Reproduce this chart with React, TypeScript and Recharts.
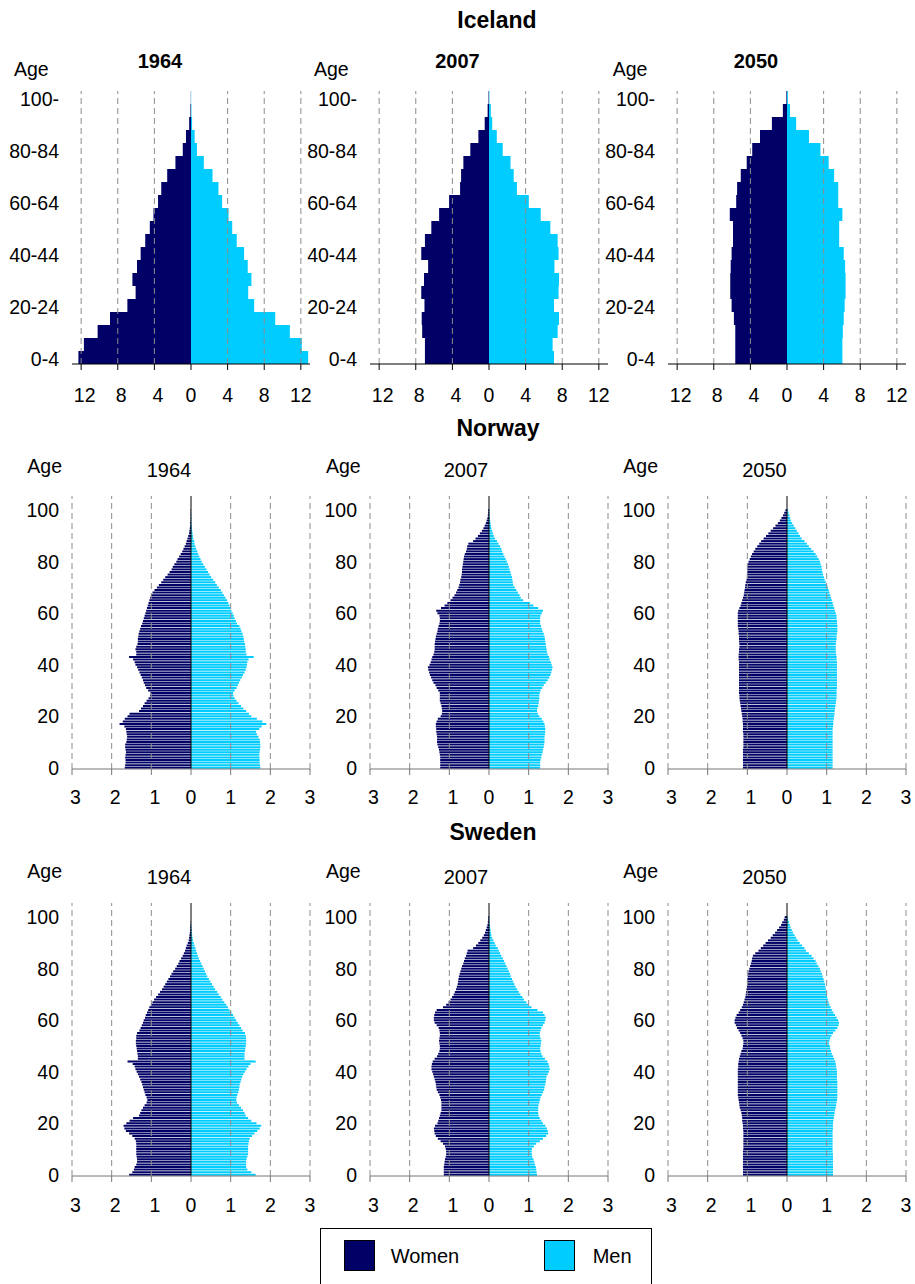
import React from 'react';
import { BarChart, Bar, XAxis, YAxis, ReferenceLine } from 'recharts';

const FONT = "'Liberation Sans', Arial, Helvetica, sans-serif";
const WOMEN_COLOR = '#000066';
const MEN_COLOR = '#00CCFF';
const FS = 19.5;

// ---------- categories / ticks ----------
const ICE_GROUPS = ['0-4','5-9','10-14','15-19','20-24','25-29','30-34','35-39','40-44','45-49','50-54','55-59','60-64','65-69','70-74','75-79','80-84','85-89','90-94','95-99','100-'];
const SINGLE_AGES = Array.from({ length: 106 }, (_, i) => String(i));
const ICE_TICKS = [-12, -8, -4, 0, 4, 8, 12];
const NORDIC_TICKS = [-3, -2, -1, 0, 1, 2, 3];
const YEARS = ['1964', '2007', '2050'];
const COUNTRIES = ['Iceland', 'Norway', 'Sweden'];

// ---------- Iceland (percent, 5-year groups, 0-4 first) ----------
const IS64_W = [12.3,11.7,10.2,8.85,6.95,6.05,6.4,5.9,5.5,5.0,4.5,4.1,3.6,3.25,2.6,1.7,0.9,0.55,0.2,0.06,0.02];
const IS64_M = [12.8,12.1,10.8,9.2,6.9,6.25,6.6,6.2,5.8,5.0,4.5,4.1,3.4,3.0,2.35,1.4,0.65,0.4,0.12,0.05,0.02];
const IS07_W = [7.0,7.0,7.3,7.35,7.05,7.4,7.1,6.65,7.4,7.0,6.3,5.45,4.36,3.16,3.05,2.8,2.04,1.16,0.47,0.15,0.05];
const IS07_M = [7.1,6.95,7.5,7.65,7.1,7.6,7.65,7.15,7.6,7.5,6.7,5.65,4.35,3.05,2.7,2.35,1.5,0.85,0.35,0.2,0.05];
const IS50_W = [5.65,5.65,5.65,5.8,6.05,6.2,6.2,6.15,6.05,5.9,5.9,6.25,5.55,5.45,5.05,4.4,3.8,2.95,1.65,0.45,0.07];
const IS50_M = [6.05,6.05,6.1,6.2,6.3,6.4,6.4,6.35,6.2,5.7,5.7,6.05,5.6,5.6,5.15,4.55,3.65,2.4,1.0,0.33,0.1];

// ---------- Norway (percent, single years 0..100) ----------
const NO64_W = [
  1.67,1.66,1.65,1.65,1.66,1.65,1.64,1.65,1.66,1.66,
  1.63,1.62,1.61,1.62,1.63,1.64,1.68,1.80,1.72,1.67,
  1.60,1.55,1.31,1.26,1.21,1.17,1.12,1.07,1.03,1.02,
  1.08,1.13,1.16,1.19,1.21,1.24,1.27,1.30,1.33,1.36,
  1.40,1.42,1.46,1.56,1.38,1.38,1.40,1.38,1.35,1.34,
  1.34,1.33,1.32,1.30,1.28,1.26,1.23,1.21,1.19,1.17,
  1.15,1.13,1.11,1.09,1.07,1.05,1.03,1.01,0.97,0.92,
  0.86,0.81,0.75,0.70,0.65,0.59,0.54,0.49,0.46,0.42,
  0.37,0.34,0.30,0.26,0.22,0.19,0.16,0.13,0.11,0.09,
  0.07,0.05,0.04,0.03,0.02,0.02,0.01,0.01,0.01,0.01,
  0.01];
const NO64_M = [
  1.75,1.74,1.73,1.73,1.73,1.72,1.73,1.74,1.75,1.75,
  1.74,1.73,1.70,1.66,1.64,1.72,1.78,1.90,1.80,1.66,
  1.52,1.46,1.39,1.32,1.26,1.20,1.15,1.10,1.07,1.06,
  1.10,1.15,1.18,1.21,1.24,1.28,1.31,1.35,1.38,1.40,
  1.41,1.42,1.45,1.58,1.40,1.38,1.38,1.37,1.36,1.34,
  1.33,1.32,1.30,1.27,1.25,1.22,1.16,1.13,1.10,1.08,
  1.05,1.02,1.00,0.97,0.94,0.91,0.87,0.83,0.79,0.75,
  0.70,0.65,0.61,0.56,0.51,0.47,0.43,0.39,0.35,0.31,
  0.27,0.24,0.21,0.18,0.16,0.13,0.11,0.09,0.08,0.06,
  0.05,0.04,0.03,0.02,0.02,0.01,0.01,0.01,0.01,0.00,
  0.00];
const NO07_W = [
  1.23,1.23,1.23,1.23,1.23,1.24,1.25,1.26,1.28,1.30,
  1.31,1.31,1.31,1.32,1.33,1.33,1.34,1.34,1.32,1.29,
  1.22,1.19,1.18,1.19,1.20,1.22,1.24,1.24,1.24,1.24,
  1.28,1.32,1.35,1.40,1.43,1.46,1.49,1.51,1.53,1.54,
  1.50,1.47,1.45,1.43,1.40,1.38,1.37,1.37,1.37,1.36,
  1.35,1.34,1.32,1.30,1.29,1.27,1.25,1.24,1.24,1.25,
  1.30,1.33,1.21,1.12,1.05,0.97,0.92,0.87,0.83,0.80,
  0.77,0.75,0.73,0.72,0.70,0.69,0.68,0.68,0.67,0.66,
  0.65,0.64,0.63,0.61,0.58,0.56,0.55,0.52,0.40,0.34,
  0.28,0.23,0.18,0.14,0.11,0.08,0.06,0.04,0.03,0.02,
  0.02];
const NO07_M = [
  1.29,1.29,1.29,1.30,1.32,1.33,1.35,1.36,1.38,1.39,
  1.40,1.40,1.40,1.41,1.42,1.42,1.41,1.40,1.37,1.33,
  1.27,1.23,1.21,1.22,1.24,1.25,1.26,1.27,1.27,1.28,
  1.30,1.34,1.38,1.43,1.48,1.52,1.55,1.57,1.59,1.60,
  1.58,1.56,1.53,1.51,1.48,1.46,1.45,1.44,1.43,1.42,
  1.41,1.40,1.38,1.35,1.33,1.31,1.29,1.29,1.29,1.30,
  1.33,1.36,1.24,1.12,1.03,0.86,0.80,0.77,0.73,0.69,
  0.65,0.61,0.60,0.59,0.58,0.56,0.54,0.52,0.50,0.48,
  0.45,0.42,0.39,0.36,0.33,0.31,0.28,0.24,0.20,0.15,
  0.12,0.10,0.08,0.06,0.05,0.04,0.03,0.02,0.01,0.01,
  0.01];
const NO50_W = [
  1.11,1.11,1.11,1.11,1.11,1.11,1.11,1.11,1.10,1.10,
  1.10,1.10,1.10,1.10,1.11,1.11,1.11,1.11,1.12,1.12,
  1.13,1.14,1.15,1.16,1.17,1.18,1.19,1.20,1.20,1.21,
  1.21,1.21,1.21,1.21,1.21,1.21,1.21,1.21,1.21,1.21,
  1.21,1.21,1.22,1.22,1.22,1.21,1.21,1.20,1.20,1.21,
  1.21,1.21,1.22,1.22,1.23,1.24,1.24,1.24,1.24,1.24,
  1.24,1.23,1.20,1.17,1.15,1.13,1.11,1.09,1.08,1.07,
  1.06,1.05,1.04,1.02,1.01,1.01,1.00,1.00,1.00,0.99,
  0.97,0.94,0.91,0.88,0.84,0.80,0.75,0.70,0.65,0.59,
  0.53,0.47,0.41,0.35,0.29,0.23,0.18,0.14,0.10,0.07,
  0.04];
const NO50_M = [
  1.15,1.15,1.15,1.15,1.15,1.15,1.15,1.15,1.15,1.15,
  1.15,1.15,1.15,1.15,1.15,1.15,1.16,1.17,1.17,1.18,
  1.19,1.20,1.20,1.21,1.22,1.23,1.24,1.25,1.25,1.25,
  1.25,1.26,1.26,1.26,1.26,1.26,1.26,1.26,1.26,1.26,
  1.26,1.26,1.25,1.25,1.24,1.23,1.23,1.23,1.23,1.24,
  1.25,1.25,1.26,1.27,1.27,1.27,1.26,1.26,1.25,1.25,
  1.23,1.21,1.19,1.17,1.15,1.13,1.11,1.09,1.07,1.05,
  1.03,1.00,0.98,0.95,0.93,0.91,0.89,0.88,0.87,0.85,
  0.83,0.80,0.76,0.72,0.67,0.61,0.55,0.50,0.44,0.37,
  0.33,0.29,0.25,0.21,0.17,0.13,0.10,0.08,0.06,0.04,
  0.03];

// ---------- Sweden (percent, single years 0..100) ----------
const SE64_W = [
  1.56,1.48,1.44,1.42,1.38,1.36,1.36,1.37,1.38,1.38,
  1.38,1.38,1.38,1.39,1.42,1.48,1.56,1.64,1.68,1.70,
  1.63,1.55,1.46,1.31,1.28,1.25,1.21,1.17,1.12,1.10,
  1.12,1.15,1.17,1.19,1.21,1.23,1.25,1.28,1.31,1.34,
  1.37,1.40,1.42,1.47,1.60,1.34,1.34,1.35,1.36,1.37,
  1.38,1.39,1.39,1.38,1.38,1.36,1.30,1.27,1.24,1.21,
  1.19,1.16,1.14,1.11,1.08,1.05,1.01,0.97,0.93,0.88,
  0.83,0.78,0.73,0.69,0.65,0.61,0.57,0.53,0.49,0.45,
  0.40,0.36,0.32,0.29,0.25,0.21,0.18,0.15,0.13,0.11,
  0.08,0.06,0.05,0.04,0.03,0.02,0.02,0.01,0.01,0.00,
  0.00];
const SE64_M = [
  1.63,1.52,1.42,1.39,1.39,1.39,1.40,1.42,1.44,1.44,
  1.44,1.44,1.45,1.46,1.48,1.54,1.60,1.67,1.73,1.77,
  1.65,1.52,1.44,1.38,1.35,1.31,1.26,1.21,1.16,1.14,
  1.15,1.17,1.19,1.21,1.22,1.23,1.25,1.27,1.29,1.32,
  1.36,1.40,1.45,1.50,1.63,1.35,1.35,1.35,1.36,1.37,
  1.38,1.39,1.39,1.39,1.38,1.36,1.30,1.26,1.22,1.18,
  1.14,1.10,1.06,1.02,0.97,0.93,0.89,0.84,0.79,0.75,
  0.70,0.66,0.61,0.57,0.53,0.49,0.45,0.41,0.38,0.35,
  0.32,0.29,0.26,0.23,0.20,0.17,0.15,0.13,0.11,0.09,
  0.07,0.05,0.04,0.03,0.02,0.02,0.01,0.01,0.00,0.00,
  0.00];
const SE07_W = [
  1.14,1.14,1.14,1.14,1.13,1.12,1.11,1.09,1.08,1.08,
  1.09,1.11,1.16,1.22,1.29,1.34,1.37,1.38,1.39,1.36,
  1.30,1.28,1.26,1.24,1.22,1.20,1.20,1.20,1.20,1.21,
  1.23,1.25,1.29,1.32,1.33,1.34,1.35,1.37,1.39,1.41,
  1.43,1.45,1.45,1.44,1.42,1.37,1.31,1.28,1.25,1.24,
  1.24,1.25,1.26,1.25,1.24,1.24,1.25,1.27,1.32,1.37,
  1.39,1.39,1.38,1.36,1.32,1.16,1.08,1.02,0.97,0.93,
  0.89,0.86,0.83,0.81,0.79,0.78,0.77,0.76,0.74,0.72,
  0.70,0.68,0.65,0.63,0.61,0.58,0.56,0.54,0.40,0.33,
  0.27,0.22,0.17,0.13,0.10,0.08,0.06,0.04,0.03,0.02,
  0.02];
const SE07_M = [
  1.21,1.20,1.19,1.18,1.16,1.14,1.12,1.09,1.08,1.08,
  1.08,1.13,1.19,1.28,1.36,1.44,1.49,1.48,1.46,1.42,
  1.36,1.32,1.28,1.25,1.24,1.24,1.24,1.25,1.27,1.28,
  1.30,1.33,1.36,1.39,1.40,1.42,1.43,1.44,1.45,1.48,
  1.51,1.53,1.52,1.50,1.47,1.41,1.35,1.32,1.30,1.29,
  1.30,1.31,1.32,1.30,1.28,1.28,1.30,1.32,1.36,1.40,
  1.42,1.43,1.40,1.36,1.22,1.07,1.00,0.94,0.88,0.84,
  0.79,0.75,0.71,0.67,0.64,0.61,0.58,0.55,0.53,0.50,
  0.47,0.44,0.41,0.38,0.35,0.31,0.28,0.25,0.22,0.17,
  0.14,0.11,0.08,0.06,0.05,0.04,0.03,0.02,0.01,0.01,
  0.01];
const SE50_W = [
  1.11,1.11,1.11,1.11,1.11,1.11,1.11,1.11,1.11,1.11,
  1.10,1.10,1.10,1.10,1.10,1.10,1.10,1.10,1.11,1.11,
  1.12,1.13,1.13,1.14,1.15,1.17,1.19,1.20,1.21,1.22,
  1.23,1.24,1.24,1.24,1.24,1.24,1.24,1.24,1.24,1.24,
  1.24,1.24,1.23,1.23,1.22,1.21,1.19,1.17,1.15,1.12,
  1.11,1.10,1.10,1.12,1.15,1.18,1.22,1.26,1.29,1.32,
  1.32,1.30,1.27,1.22,1.18,1.14,1.11,1.09,1.07,1.05,
  1.04,1.03,1.02,1.01,1.00,1.00,1.00,0.99,0.98,0.97,
  0.95,0.93,0.91,0.89,0.88,0.86,0.80,0.72,0.66,0.60,
  0.54,0.48,0.41,0.36,0.30,0.25,0.20,0.15,0.12,0.08,
  0.06];
const SE50_M = [
  1.16,1.16,1.16,1.16,1.16,1.16,1.16,1.16,1.16,1.15,
  1.15,1.15,1.15,1.15,1.15,1.15,1.15,1.15,1.16,1.16,
  1.16,1.17,1.18,1.19,1.20,1.21,1.23,1.24,1.25,1.26,
  1.27,1.27,1.27,1.27,1.27,1.27,1.27,1.26,1.26,1.26,
  1.26,1.25,1.24,1.23,1.22,1.19,1.16,1.13,1.11,1.09,
  1.08,1.06,1.07,1.09,1.12,1.16,1.22,1.27,1.30,1.31,
  1.29,1.25,1.21,1.17,1.13,1.10,1.07,1.05,1.03,1.01,
  1.00,0.99,0.98,0.97,0.96,0.94,0.92,0.90,0.88,0.85,
  0.83,0.79,0.75,0.72,0.67,0.62,0.55,0.48,0.44,0.38,
  0.32,0.27,0.23,0.19,0.15,0.12,0.09,0.07,0.05,0.03,
  0.02];

// ---------- helpers ----------
type Row = { age: string; women: number; men: number };
const pyramidRows = (labels: string[], women: number[], men: number[]): Row[] =>
  labels.map((label, i) => ({ age: label, women: -(women[i] ?? 0), men: men[i] ?? 0 }));

const XTick = (props: any) => {
  const { x, y, payload, baseOff } = props;
  const v = Number(payload.value);
  return (
    <text x={x + (v < 0 ? 3.5 : 0)} y={y - 6 + baseOff} textAnchor="middle" fontSize={FS} fontFamily={FONT} fill="#000">
      {Math.abs(v)}
    </text>
  );
};

const YTick = (props: any) => {
  const { x, y, payload, shift } = props;
  return (
    <text x={x} y={y + shift} textAnchor="end" dominantBaseline="central" fontSize={FS} fontFamily={FONT} fill="#000">
      {payload.value}
    </text>
  );
};

const PLOT_H = 273;
const TOP_M = 11;
const BOTTOM_SPACE = 45;

type PyramidProps = {
  left: number;
  plotTop: number;
  data: Row[];
  ticks: number[];
  domain: [number, number];
  interval: number;
  axisColor: string;
  zeroLine: boolean;
  gap: number | string;
  baseOff: number;
  yShift: number;
};

function Pyramid({ left, plotTop, data, ticks, domain, interval, axisColor, zeroLine, gap, baseOff, yShift }: PyramidProps) {
  const W = 315;
  const H = PLOT_H + TOP_M + BOTTOM_SPACE;
  return (
    <div style={{ position: 'absolute', left, top: plotTop - TOP_M, width: W, height: H }}>
      <BarChart
        width={W}
        height={H}
        data={data}
        layout="vertical"
        stackOffset="sign"
        barCategoryGap={gap}
        margin={{ top: TOP_M, right: 5, bottom: 5, left: 0 }}
      >
        <XAxis
          type="number"
          domain={domain}
          ticks={ticks}
          interval={0}
          height={40}
          tickSize={6}
          tickMargin={0}
          axisLine={{ stroke: axisColor, strokeWidth: 1 }}
          tickLine={{ stroke: axisColor, strokeWidth: 1 }}
          tick={<XTick baseOff={baseOff} />}
        />
        <YAxis
          type="category"
          dataKey="age"
          reversed
          width={72}
          axisLine={false}
          tickLine={false}
          tickSize={6}
          tickMargin={7}
          interval={interval}
          tick={<YTick shift={yShift} />}
        />
        {ticks.filter((t) => t !== 0).map((t) => (
          <ReferenceLine key={t} x={t} stroke="#8c8c8c" strokeDasharray="6 4" strokeWidth={1} />
        ))}
        <Bar dataKey="women" stackId="s" fill={WOMEN_COLOR} isAnimationActive={false} />
        <Bar dataKey="men" stackId="s" fill={MEN_COLOR} isAnimationActive={false} />
        {zeroLine && <ReferenceLine x={0} stroke="#000" strokeWidth={1} />}
      </BarChart>
    </div>
  );
}

const COL_LEFT = [0, 298, 596];

const ICE_DATA = [
  pyramidRows(ICE_GROUPS, IS64_W, IS64_M),
  pyramidRows(ICE_GROUPS, IS07_W, IS07_M),
  pyramidRows(ICE_GROUPS, IS50_W, IS50_M),
];
const NO_DATA = [
  pyramidRows(SINGLE_AGES, NO64_W, NO64_M),
  pyramidRows(SINGLE_AGES, NO07_W, NO07_M),
  pyramidRows(SINGLE_AGES, NO50_W, NO50_M),
];
const SE_DATA = [
  pyramidRows(SINGLE_AGES, SE64_W, SE64_M),
  pyramidRows(SINGLE_AGES, SE07_W, SE07_M),
  pyramidRows(SINGLE_AGES, SE50_W, SE50_M),
];

export default function App() {
  const txt = { fontFamily: FONT, fill: '#000' } as const;
  return (
    <div style={{ position: 'absolute', left: 0, top: 0, width: 915, height: 1284, background: '#fff', overflow: 'hidden' }}>
      <svg width={915} height={1284} style={{ position: 'absolute', left: 0, top: 0 }}>
        {/* country titles */}
        <text x={497} y={28.3} textAnchor="middle" fontSize={23} fontWeight="bold" {...txt}>{COUNTRIES[0]}</text>
        <text x={498} y={436} textAnchor="middle" fontSize={23} fontWeight="bold" {...txt}>{COUNTRIES[1]}</text>
        <text x={493} y={840} textAnchor="middle" fontSize={23} fontWeight="bold" {...txt}>{COUNTRIES[2]}</text>
        {/* year titles */}
        {[160, 457.5, 756].map((cx, i) => (
          <text key={'iy' + i} x={cx} y={67.7} textAnchor="middle" fontSize={20} fontWeight="bold" {...txt}>{YEARS[i]}</text>
        ))}
        {[169, 466, 764.5].map((cx, i) => (
          <text key={'ny' + i} x={cx} y={476.7} textAnchor="middle" fontSize={20} {...txt}>{YEARS[i]}</text>
        ))}
        {[169, 466, 764.5].map((cx, i) => (
          <text key={'sy' + i} x={cx} y={883.5} textAnchor="middle" fontSize={20} {...txt}>{YEARS[i]}</text>
        ))}
        {/* Age labels */}
        {[14, 314, 612.7].map((lx, i) => (
          <text key={'ia' + i} x={lx} y={76} fontSize={FS} {...txt}>Age</text>
        ))}
        {[27.3, 326, 623.3].map((lx, i) => (
          <text key={'na' + i} x={lx} y={473} fontSize={FS} {...txt}>Age</text>
        ))}
        {[27.3, 326, 623.3].map((lx, i) => (
          <text key={'sa' + i} x={lx} y={878} fontSize={FS} {...txt}>Age</text>
        ))}
        {/* legend */}
        <rect x={320.5} y={1228.5} width={331} height={70} fill="#fff" stroke="#000" strokeWidth={1} />
        <rect x={344.5} y={1240.5} width={30} height={30} fill={WOMEN_COLOR} stroke="#000" strokeWidth={1} />
        <text x={390.7} y={1263.3} fontSize={20} {...txt}>Women</text>
        <rect x={544.5} y={1240.5} width={30} height={30} fill={MEN_COLOR} stroke="#000" strokeWidth={1} />
        <text x={592.7} y={1263.3} fontSize={20} {...txt}>Men</text>
      </svg>

      {ICE_DATA.map((d, i) => (
        <Pyramid key={'ice' + i} left={COL_LEFT[i]} plotTop={91} data={d} ticks={ICE_TICKS} domain={[-13, 13]}
          interval={3} axisColor="#000" zeroLine={false} gap={0} baseOff={38} yShift={1.5} />
      ))}
      {NO_DATA.map((d, i) => (
        <Pyramid key={'no' + i} left={COL_LEFT[i]} plotTop={496} data={d} ticks={NORDIC_TICKS} domain={[-3, 3]}
          interval={19} axisColor="#777" zeroLine={true} gap="12%" baseOff={35} yShift={0} />
      ))}
      {SE_DATA.map((d, i) => (
        <Pyramid key={'se' + i} left={COL_LEFT[i]} plotTop={903} data={d} ticks={NORDIC_TICKS} domain={[-3, 3]}
          interval={19} axisColor="#777" zeroLine={true} gap="12%" baseOff={36} yShift={0} />
      ))}
    </div>
  );
}
